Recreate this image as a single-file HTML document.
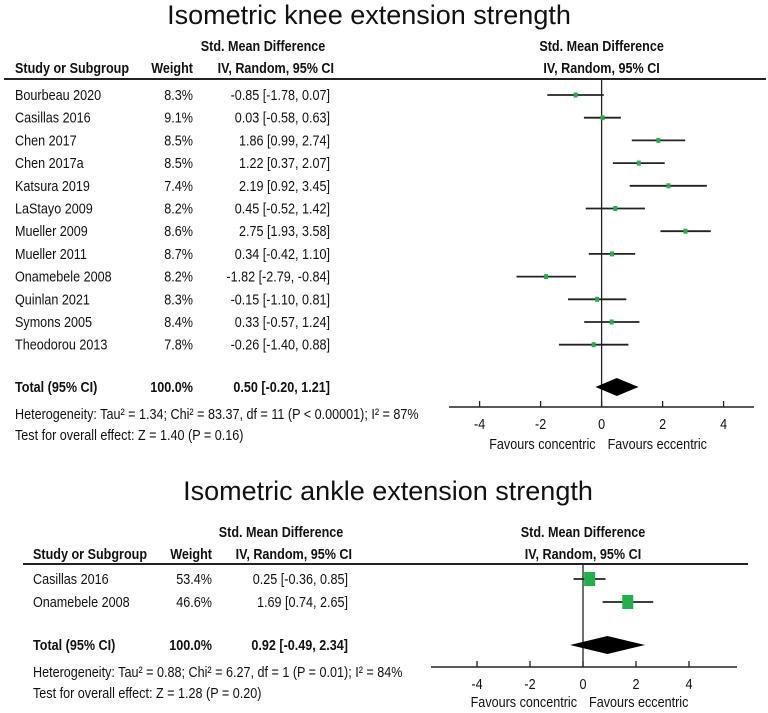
<!DOCTYPE html>
<html><head><meta charset="utf-8"><style>
html,body{margin:0;padding:0;background:#fff;}
svg{display:block;font-family:"Liberation Sans",Arial,sans-serif;}
</style></head><body>
<svg id="s" width="768" height="713" viewBox="0 0 768 713"></svg>
<script>
const knStudies=["Bourbeau 2020","Casillas 2016","Chen 2017","Chen 2017a","Katsura 2019","LaStayo 2009","Mueller 2009","Mueller 2011","Onamebele 2008","Quinlan 2021","Symons 2005","Theodorou 2013"];
const knWeights=["8.3%","9.1%","8.5%","8.5%","7.4%","8.2%","8.6%","8.7%","8.2%","8.3%","8.4%","7.8%"];
const knEst=[-0.85,0.03,1.86,1.22,2.19,0.45,2.75,0.34,-1.82,-0.15,0.33,-0.26];
const knLo=[-1.78,-0.58,0.99,0.37,0.92,-0.52,1.93,-0.42,-2.79,-1.10,-0.57,-1.40];
const knHi=[0.07,0.63,2.74,2.07,3.45,1.42,3.58,1.10,-0.84,0.81,1.24,0.88];
const knTotal=[0.50,-0.20,1.21];
const anStudies=["Casillas 2016","Onamebele 2008"];
const anWeights=["53.4%","46.6%"];
const anEst=[0.25,1.69];
const anLo=[-0.36,0.74];
const anHi=[0.85,2.65];
const anTotal=[0.92,-0.49,2.34];
const ticks=[-4,-2,0,2,4];

const NS="http://www.w3.org/2000/svg";
const svg=document.getElementById('s');
function el(tag,attrs,parent){const e=document.createElementNS(NS,tag);for(const k in attrs)e.setAttribute(k,attrs[k]);(parent||svg).appendChild(e);return e;}
function txt(x,y,s,opt,name){opt=opt||{};
 const t=el('text',{transform:`translate(${x},${y}) scale(${opt.sx||0.84},1)`,'font-size':opt.size||15,'text-anchor':opt.anchor||'start','font-weight':opt.bold?'bold':'normal',fill:'#111'});
 t.textContent=s;
 
 
 return t;}
const f=v=>v.toFixed(2);
function panel(P){
 const xs=v=>P.zero+v*P.unit;
 txt(P.titleX,P.titleY,P.title,{size:27,sx:1,anchor:'middle'},'chart-title');
 txt(P.cw-67,P.h1,'Std. Mean Difference',{bold:1,anchor:'middle'},'effect-header');
 txt(P.zero,P.h1,'Std. Mean Difference',{bold:1,anchor:'middle'},'plot-header');
 txt(P.sx,P.h2,'Study or Subgroup',{bold:1},'study-header');
 txt(P.wx,P.h2,'Weight',{bold:1,anchor:'end'},'weight-header');
 txt(P.cw+4,P.h2,'IV, Random, 95% CI',{bold:1,anchor:'end'},'ci-header');
 txt(P.zero,P.h2,'IV, Random, 95% CI',{bold:1,anchor:'middle'},'plot-ci-header');
 const hl=el('line',{x1:P.lx1,x2:P.lx2,y1:P.hy,y2:P.hy,stroke:'#222','stroke-width':2});
 
 const zl=el('line',{x1:P.zero,x2:P.zero,y1:P.hy,y2:P.ay,stroke:'#222','stroke-width':1.3});
 
 P.studies.forEach((s,i)=>{const y=P.r0+i*P.rs;
  txt(P.sx,y+5,s,{},'study-name');
  txt(P.wx,y+5,P.w[i],{anchor:'end'},'study-weight');
  txt(P.cw,y+5,`${f(P.est[i])} [${f(P.lo[i])}, ${f(P.hi[i])}]`,{anchor:'end'},'study-ci');
  const l=el('line',{x1:xs(P.lo[i]),x2:xs(P.hi[i]),y1:y,y2:y,stroke:'#222','stroke-width':1.8});
  
  const bw=P.box[0],bh=P.box[1];
  const b=el('rect',{x:xs(P.est[i])-bw/2,y:y-bh/2,width:bw,height:bh,fill:'#22b04a'});
  
 });
 const ty=P.ty;
 txt(P.sx,ty+5,'Total (95% CI)',{bold:1},'total-label');
 txt(P.wx,ty+5,'100.0%',{bold:1,anchor:'end'},'total-weight');
 txt(P.cw,ty+5,`${f(P.tot[0])} [${f(P.tot[1])}, ${f(P.tot[2])}]`,{bold:1,anchor:'end'},'total-ci');
 const d=el('polygon',{points:`${xs(P.tot[1])},${ty} ${xs(P.tot[0])},${ty-9} ${xs(P.tot[2])},${ty} ${xs(P.tot[0])},${ty+9}`,fill:'#000'});
 
 txt(P.sx,P.hetY,P.het,{},'heterogeneity-text');
 txt(P.sx,P.testY,P.test,{},'overall-effect-text');
 const al=el('line',{x1:P.ax1,x2:P.ax2,y1:P.ay,y2:P.ay,stroke:'#222','stroke-width':1.5});
 
 ticks.forEach(t=>{const tl=el('line',{x1:xs(t),x2:xs(t),y1:P.ay-6,y2:P.ay,stroke:'#222','stroke-width':1.3});
  
  txt(xs(t),P.ay+22,String(t),{anchor:'middle'},'x-tick-label');});
 txt(P.zero-6,P.favY,'Favours concentric',{anchor:'end'},'favours-concentric');
 txt(P.zero+6,P.favY,'Favours eccentric',{},'favours-eccentric');
}
panel({title:'Isometric knee extension strength',titleX:369,titleY:24,h1:51,h2:73,hy:79,lx1:4,lx2:766,
 sx:15,wx:193,cw:330,zero:601.6,unit:30.5,r0:95,rs:22.7,studies:knStudies,w:knWeights,est:knEst,lo:knLo,hi:knHi,box:[4,5],
 tot:knTotal,ty:387,het:'Heterogeneity: Tau² = 1.34; Chi² = 83.37, df = 11 (P < 0.00001); I² = 87%',test:'Test for overall effect: Z = 1.40 (P = 0.16)',
 hetY:419,testY:440,ay:407,ax1:449,ax2:754,favY:449});
panel({title:'Isometric ankle extension strength',titleX:388,titleY:500,h1:537,h2:559,hy:564,lx1:23,lx2:748,
 sx:33,wx:212,cw:348,zero:583,unit:26.5,r0:579,rs:23,studies:anStudies,w:anWeights,est:anEst,lo:anLo,hi:anHi,box:[11,14],
 tot:anTotal,ty:645,het:'Heterogeneity: Tau² = 0.88; Chi² = 6.27, df = 1 (P = 0.01); I² = 84%',test:'Test for overall effect: Z = 1.28 (P = 0.20)',
 hetY:677,testY:698,ay:667,ax1:431,ax2:737,favY:707});
</script>
</body></html>
